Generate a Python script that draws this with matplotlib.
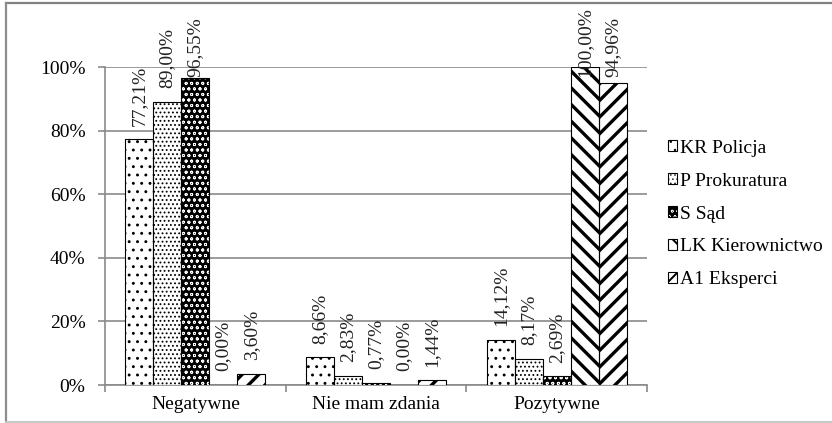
import matplotlib
matplotlib.use("Agg")
import matplotlib.pyplot as plt
import numpy as np
from matplotlib.lines import Line2D
from matplotlib.patches import Rectangle
from matplotlib.ticker import FuncFormatter

# opinion categories and answer shares (%) for each group
categories = ["Negatywne", "Nie mam zdania", "Pozytywne"]
series_names = ["KR Policja", "P Prokuratura", "S Sąd", "LK Kierownictwo", "A1 Eksperci"]
kr_policja = [77.21, 8.66, 14.12]
p_prokuratura = [89.00, 2.83, 8.17]
s_sad = [96.55, 0.77, 2.69]
lk_kierownictwo = [0.00, 0.00, 100.00]
a1_eksperci = [3.60, 1.44, 94.96]

series_values = [kr_policja, p_prokuratura, s_sad, lk_kierownictwo, a1_eksperci]

plt.rcParams["font.family"] = ["Liberation Serif", "DejaVu Serif"]
plt.rcParams["font.size"] = 14

# face, hatch colour, hatch pattern, hatch width
styles = [
    ("white", "black", "..", 0.9),
    ("white", "black", "....", 0.8),
    ("black", "white", "ooo", 0.6),
    ("white", "black", "\\\\", 2.4),
    ("white", "black", "//", 2.4),
]

fig = plt.figure(figsize=(8.32, 4.23), dpi=100)
ax = fig.add_axes([105 / 832, 1 - 385 / 423, 542 / 832, 318 / 423])

x = np.arange(len(categories))
width = 0.155
grid_gray = "#8a8a8a"

handles = []
for i, (name, values) in enumerate(zip(series_names, series_values)):
    face, hcolor, hatch, hlw = styles[i]
    plt.rcParams["hatch.linewidth"] = hlw
    pos = x + (i - 2) * width
    bars = ax.bar(pos, values, width, color=face, edgecolor=hcolor,
                  hatch=hatch, linewidth=0, label=name, zorder=3)
    for b in bars:
        if hasattr(b, "set_hatch_linewidth"):
            b.set_hatch_linewidth(hlw)
    # black outline on top of the hatched fill
    outline = ax.bar(pos, values, width, fill=False, edgecolor="black",
                     linewidth=0.8, zorder=4)
    handles.append((bars[0], outline[0]))
    for px, v in zip(pos, values):
        ax.text(px, min(v + 4.3, 97), f"{v:.2f}%".replace(".", ","),
                rotation=90, ha="center", va="bottom", fontsize=14,
                color="#222222", zorder=5)

ax.set_xlim(-0.5, len(categories) - 0.5)
ax.set_ylim(0, 100)
ax.set_yticks(np.arange(0, 101, 20))
ax.yaxis.set_major_formatter(FuncFormatter(lambda v, _: f"{v:.0f}%"))
ax.yaxis.grid(True, color=grid_gray, linewidth=1.2, zorder=0)
ax.set_axisbelow(True)

ax.set_xticks(x)
ax.set_xticklabels(categories)
ax.set_xticks(np.arange(-0.5, len(categories)), minor=True)
ax.tick_params(axis="x", which="major", length=0, pad=8)
ax.tick_params(axis="x", which="minor", length=5, width=1.2, color=grid_gray)
ax.tick_params(axis="y", length=5, width=1.2, color=grid_gray, pad=9)

for side in ["top", "right"]:
    ax.spines[side].set_visible(False)
for side in ["left", "bottom"]:
    ax.spines[side].set_color(grid_gray)
    ax.spines[side].set_linewidth(1.2)

leg = fig.legend(handles=handles, labels=series_names, loc="center left",
                 bbox_to_anchor=(650 / 832, 1 - 214 / 423), frameon=False,
                 handlelength=0.5, handleheight=0.5, handletextpad=0.15,
                 labelspacing=0.82, fontsize=14)

# legend swatches are fresh copies, give them the same hatch widths as the bars
hatch_widths = {s[2]: s[3] for s in styles}
for rect in leg.findobj(Rectangle):
    h = rect.get_hatch()
    if h in hatch_widths and hasattr(rect, "set_hatch_linewidth"):
        rect.set_hatch_linewidth(hatch_widths[h] * 0.6)

# outer chart frame
fig.add_artist(Line2D([6 / 832, 1], [1 - 3.5 / 423] * 2, transform=fig.transFigure,
                      color="#808080", linewidth=1.6))
fig.add_artist(Line2D([6 / 832] * 2, [1 / 423, 1 - 3.5 / 423], transform=fig.transFigure,
                      color="#8c8c8c", linewidth=1.6))
fig.add_artist(Line2D([6 / 832, 1], [1 / 423] * 2, transform=fig.transFigure,
                      color="#c8c8c8", linewidth=1.4))

fig.savefig("out.png", dpi=100)
